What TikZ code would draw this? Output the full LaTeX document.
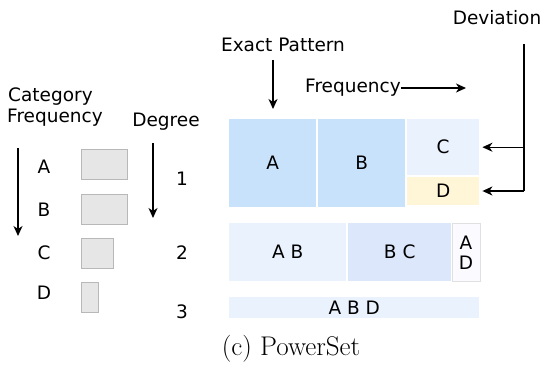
\documentclass[tikz,border=0pt]{standalone}
\usepackage{fontspec}
\usepackage{tikz}
\usetikzlibrary{positioning, arrows.meta, calc}
\newfontfamily\labelfont{DejaVu Sans}

\definecolor{setblue}{HTML}{C9E2FB}
\definecolor{paleblue}{HTML}{EAF2FD}
\definecolor{midblue}{HTML}{DDE7FB}
\definecolor{paleyellow}{HTML}{FFF6D8}
\definecolor{barfill}{HTML}{E6E6E6}
\definecolor{barline}{HTML}{B8B8B8}

\tikzset{
  lbl/.style={font=\labelfont\fontsize{18.5}{22}\selectfont, inner sep=0pt},
  arr/.style={-{Stealth[length=10pt,width=9pt,inset=3pt]}, line width=1.4pt},
  cell/.style={lbl, minimum height=#1, inner sep=0pt, anchor=north west},
  bar/.style={fill=barfill, draw=barline, line width=1pt, anchor=north west, inner sep=0pt}
}

\begin{document}
\begin{tikzpicture}[x=1pt, y=-1pt]
			\useasboundingbox (0,0) rectangle (545,367);

			% Category frequency column
			\node[lbl, anchor=west] (cathead) at (8,97) {Category};
			\node[lbl, anchor=west] (freqhead) at (7,118) {Frequency};
			\coordinate (catstart) at (18,148);
			\coordinate (catend) at (18,236);
			\draw[arr] (catstart) -- (catend);

			\node[lbl] (catA) at (44,167) {A};
			\node[lbl] (catB) at (44,210) {B};
			\node[lbl] (catC) at (44,253) {C};
			\node[lbl] (catD) at (44,293) {D};

			\node[bar, minimum width=46pt, minimum height=30pt] (barA) at (81,149) {};
			\node[bar, minimum width=46pt, minimum height=30pt] (barB) at (81,194) {};
			\node[bar, minimum width=32pt, minimum height=30pt] (barC) at (81,238) {};
			\node[bar, minimum width=17pt, minimum height=30pt] (barD) at (81,282) {};

			% Degree column
			\node[lbl] (degree) at (166,122) {Degree};
			\coordinate (degstart) at (153,143);
			\coordinate (degend) at (153,218);
			\draw[arr] (degstart) -- (degend);
			\node[lbl] (deg1) at (182,179) {1};
			\node[lbl] (deg2) at (182,253) {2};
			\node[lbl] (deg3) at (182,312) {3};

			% Degree 1 row
			\node[cell=88pt, fill=setblue, minimum width=87pt] (boxA) at (229,119) {A};
			\node[cell=88pt, fill=setblue, minimum width=87pt] (boxB) at (318,119) {B};
			\node[cell=56pt, fill=paleblue, minimum width=72pt] (boxC) at (407,119) {C};
			\node[cell=28pt, fill=paleyellow, minimum width=72pt] (boxD) at (407,177) {D};

			% Degree 2 row
			\node[cell=58pt, fill=paleblue, minimum width=117pt] (boxAB) at (229,223) {A B};
			\node[cell=58pt, fill=midblue, minimum width=103pt] (boxBC) at (348,223) {B C};
			\node[cell=58pt, fill=blue!2, draw=black!12, line width=0.8pt, minimum width=28pt,
			      align=center] (boxAD) at (451.5,223) {A\\[-2pt]D};

			% Degree 3 row
			\node[cell=21pt, fill=paleblue, minimum width=250pt] (boxABD) at (229,297) {A B D};

			% Exact pattern and frequency
			\node[lbl] (exact) at (283,45) {Exact Pattern};
			\coordinate (exactstart) at (273,60);
			\coordinate (exactend) at (273,109);
			\draw[arr] (exactstart) -- (exactend);

			\node[lbl, anchor=west] (freq) at (305,88) {Frequency};
			\coordinate (freqend) at (466,88);
			\draw[arr] (freq.east) -- (freqend);

			% Deviation
			\node[lbl] (dev) at (497,18) {Deviation};
			\coordinate (devtop) at (524,44);
			\coordinate (devbot) at (524,191);
			\draw[line width=1.4pt] (devtop) -- (devbot);
			\draw[arr] (devbot) -- ([xshift=3pt]boxD.east |- devbot);
			\draw[arr] (devtop |- boxC.east) -- ([xshift=3pt]boxC.east);

			% Caption
			\node[font=\fontsize{27}{32}\selectfont] (caption) at (291,349) {(c)~PowerSet};
		\end{tikzpicture}
\end{document}
